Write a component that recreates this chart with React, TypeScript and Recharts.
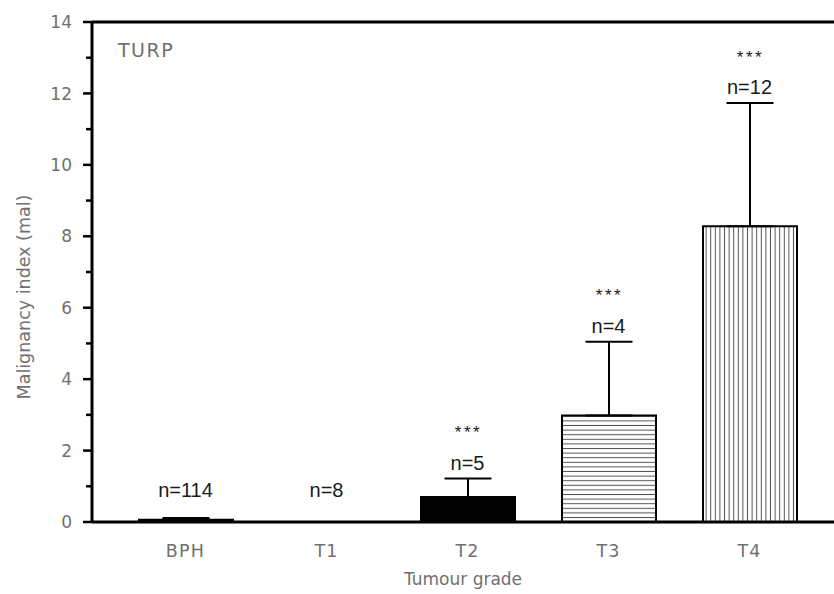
import { ComposedChart, Bar, Cell, XAxis, YAxis, ErrorBar, Line, LabelList, ReferenceLine, Label } from 'recharts';

const grades = ['BPH', 'T1', 'T2', 'T3', 'T4'];
const meanIndex = [0.06, 0, 0.7, 2.98, 8.28];
const semIndex = [0.05, 0, 0.52, 2.07, 3.45];
const sampleSizes = [114, 8, 5, 4, 12];
const significance = ['', '', '***', '***', '***'];
const yTicks = [0, 1, 2, 3, 4, 5, 6, 7, 8, 9, 10, 11, 12, 13, 14];

const barFills = ['#000', '#000', '#000', 'url(#hlines)', 'url(#vlines)'];

const data = grades.map((grade, i) => ({
  grade,
  mean: meanIndex[i],
  err: [0, semIndex[i]],
  top: meanIndex[i] + semIndex[i],
  n: sampleSizes[i],
}));

const CHART_W = 834;
const CHART_H = 594;
const X_AXIS_H = 72;
const PLOT_BOTTOM = CHART_H - X_AXIS_H;

const GREY = '#707070';
const AXIS_FONT = '"DejaVu Sans", sans-serif';
const LABEL_FONT = '"Liberation Sans", Arial, sans-serif';

function YTick(props: any) {
  const { x, y, payload } = props;
  const major = payload.value % 2 === 0;
  return (
    <g>
      <line x1={x - (major ? 9 : 6)} x2={x} y1={y} y2={y} stroke="#000" strokeWidth={2.5} />
      {major && (
        <text x={x - 20} y={y} dy="0.36em" textAnchor="end" fill={GREY} fontSize={17} fontFamily={AXIS_FONT}>
          {payload.value}
        </text>
      )}
    </g>
  );
}

function XTick(props: any) {
  const { x, y, payload } = props;
  return (
    <text x={x} y={y + 35} textAnchor="middle" fill={GREY} fontSize={17.5} letterSpacing={1.2} fontFamily={AXIS_FONT}>
      {payload.value}
    </text>
  );
}

function TopLabel(props: any) {
  const { x, y, value, index } = props;
  const ny = Math.min(y - 16, PLOT_BOTTOM - 32);
  const sig = significance[index];
  return (
    <g>
      <text x={x} y={ny} dy="0.36em" textAnchor="middle" fill="#1a1a1a" fontSize={20} fontFamily={LABEL_FONT}>
        n={value}
      </text>
      {sig && (
        <text x={x + 1} y={ny - 35} dy="0.62em" textAnchor="middle" fill="#1a1a1a" fontSize={17} letterSpacing={2.5} fontFamily={LABEL_FONT}>
          {sig}
        </text>
      )}
    </g>
  );
}

export default function App() {
  return (
    <div style={{ position: 'absolute', left: 0, top: 0, width: CHART_W, height: CHART_H, background: '#fff' }}>
      <ComposedChart width={CHART_W} height={CHART_H} data={data} margin={{ top: 22, right: 0, bottom: 0, left: 0 }}>
        <defs>
          <pattern id="hlines" patternUnits="userSpaceOnUse" width={4.6} height={4.6}>
            <rect width={4.6} height={4.6} fill="#fff" />
            <line x1={0} x2={4.6} y1={2.3} y2={2.3} stroke="#555" strokeWidth={1} />
          </pattern>
          <pattern id="vlines" patternUnits="userSpaceOnUse" width={4.6} height={4.6}>
            <rect width={4.6} height={4.6} fill="#fff" />
            <line y1={0} y2={4.6} x1={2.3} x2={2.3} stroke="#555" strokeWidth={1} />
          </pattern>
        </defs>
        <XAxis
          dataKey="grade"
          height={X_AXIS_H}
          padding={{ left: 23, right: 14 }}
          axisLine={{ stroke: '#000', strokeWidth: 3 }}
          tickLine={false}
          tickSize={0}
          tickMargin={0}
          tick={<XTick />}
          interval={0}
        />
        <YAxis
          width={92}
          domain={[0, 14]}
          ticks={yTicks}
          interval={0}
          axisLine={{ stroke: '#000', strokeWidth: 3 }}
          tickLine={false}
          tickSize={0}
          tickMargin={0}
          tick={<YTick />}
        >
          <Label
            content={() => (
              <text x={24} y={297} transform="rotate(-90 24 297)" textAnchor="middle" dominantBaseline="central" fill={GREY} fontSize={17.5} fontFamily={AXIS_FONT}>
                Malignancy index (mal)
              </text>
            )}
          />
        </YAxis>
        <ReferenceLine y={14} stroke="#000" strokeWidth={3} ifOverflow="visible" />
        <Bar dataKey="mean" barSize={94} stroke="#000" strokeWidth={2} isAnimationActive={false}>
          {data.map((d, i) => (
            <Cell key={d.grade} fill={barFills[i]} />
          ))}
          <ErrorBar dataKey="err" width={23.5} stroke="#000" strokeWidth={2} direction="y" />
        </Bar>
        <Line dataKey="top" stroke="none" dot={false} activeDot={false} legendType="none" isAnimationActive={false}>
          <LabelList dataKey="n" content={<TopLabel />} />
        </Line>
        <text x={118} y={50} dy="0.36em" fill={GREY} fontSize={19} letterSpacing={1.5} fontFamily={AXIS_FONT}>TURP</text>
        <text x={463} y={579} dy="0.36em" textAnchor="middle" fill={GREY} fontSize={17} fontFamily={AXIS_FONT}>Tumour grade</text>
      </ComposedChart>
    </div>
  );
}
